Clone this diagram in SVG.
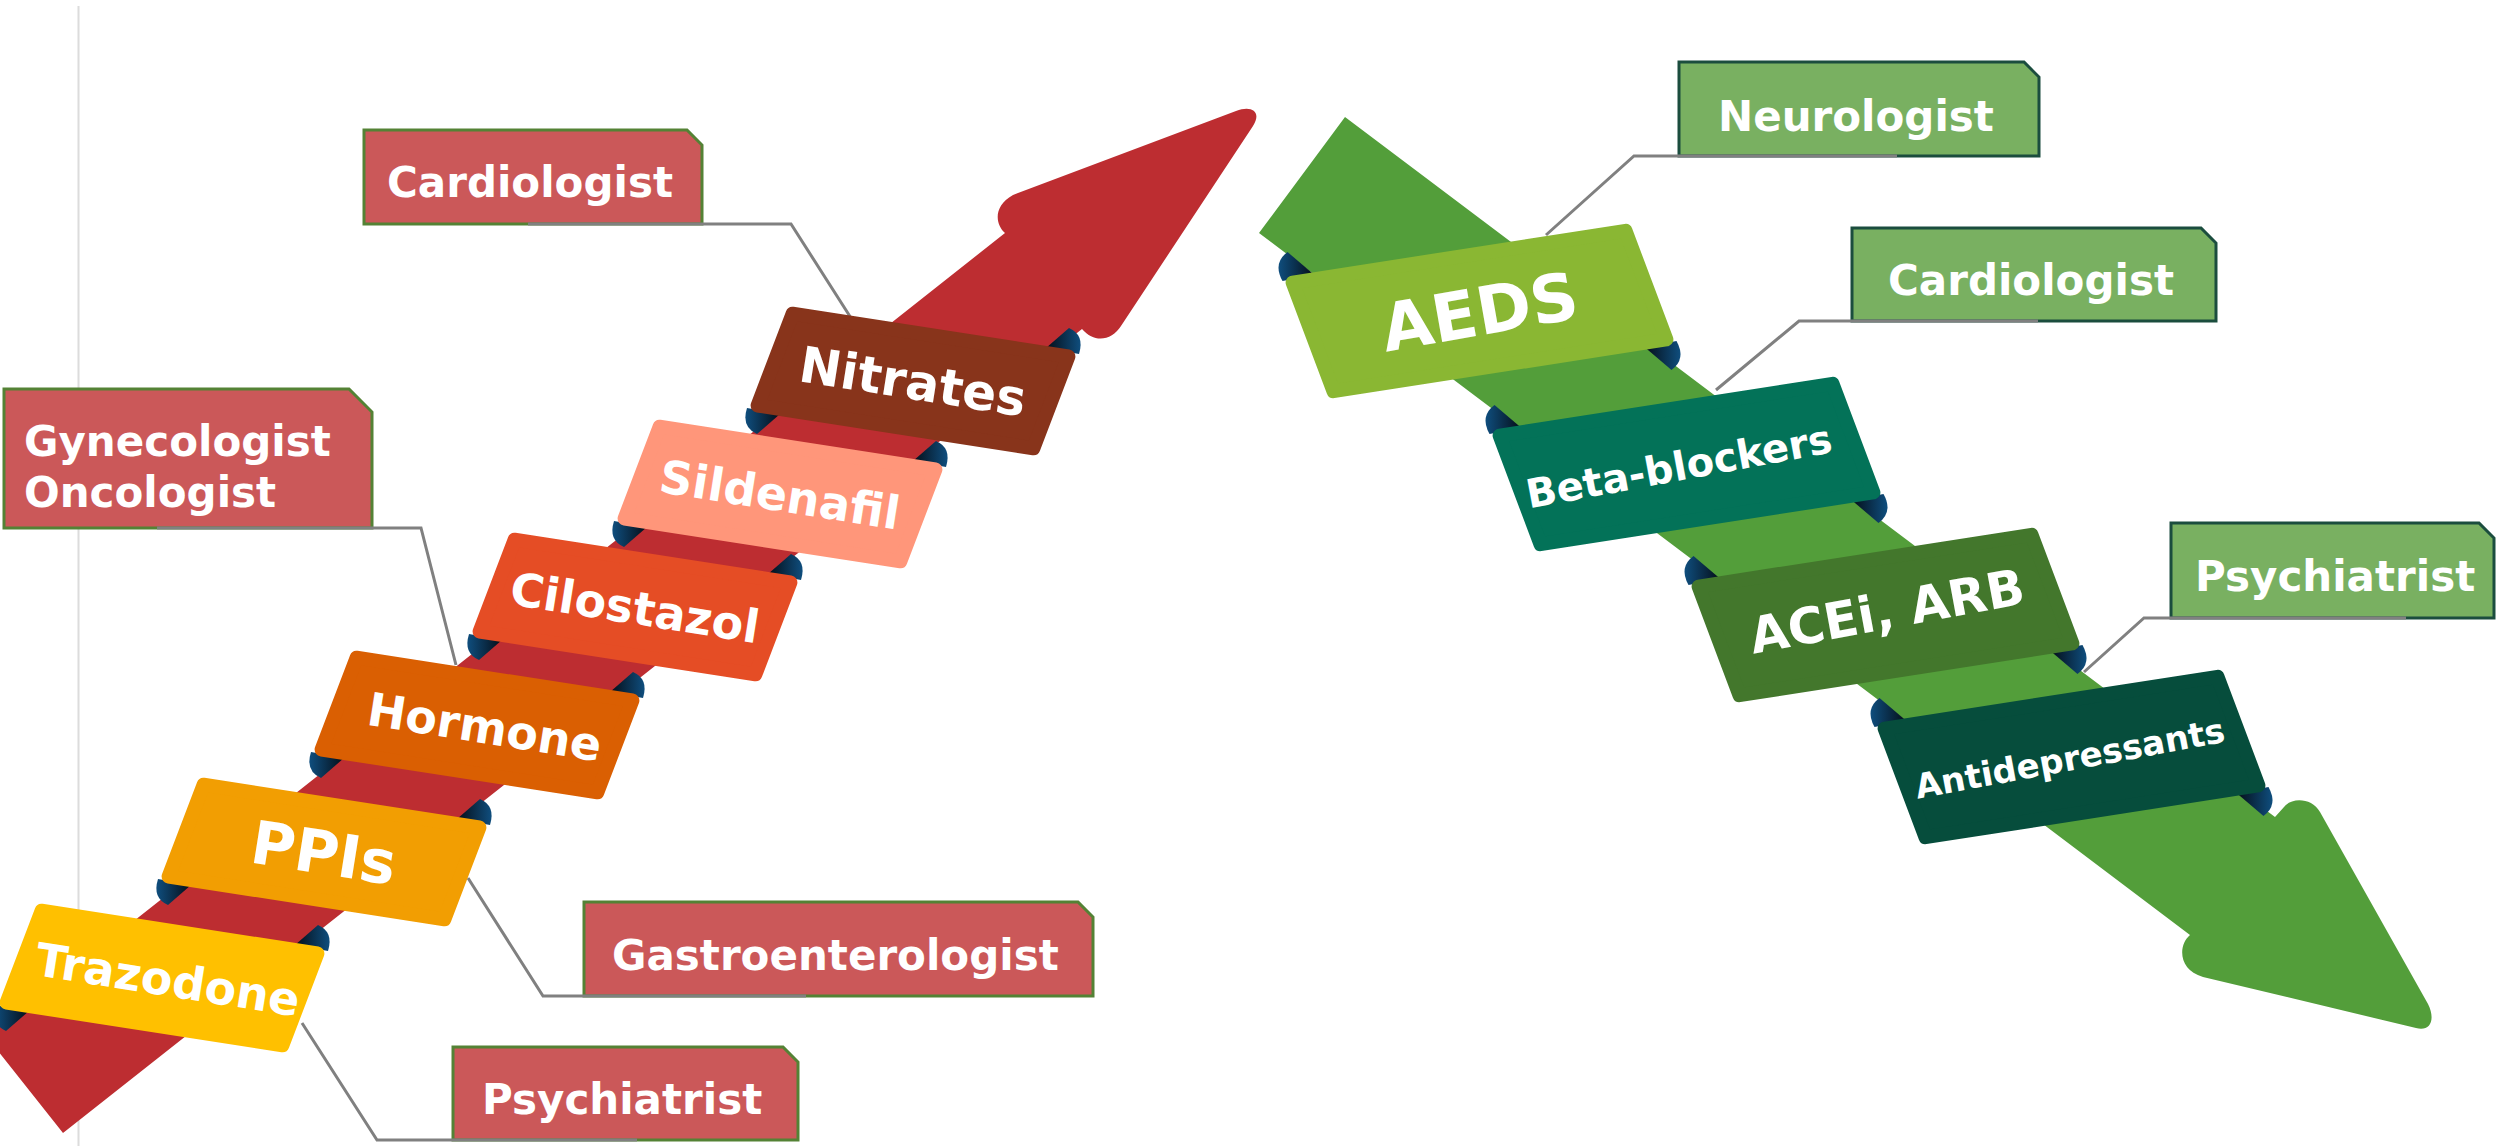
<svg xmlns="http://www.w3.org/2000/svg" width="2496" height="1146" viewBox="0 0 2496 1146">
  <defs>
    <style>
      .lbl{font-family:"DejaVu Sans","Liberation Sans",sans-serif;font-weight:bold;fill:#ffffff}
      .box-r{fill:#CB5859;stroke:#548235;stroke-width:3}
      .box-g{fill:#79B061;stroke:#1B4D3E;stroke-width:3}
      .conn{fill:none;stroke:#808080;stroke-width:3;stroke-linejoin:miter}
      .rib{stroke-width:14;stroke-linejoin:round}
    </style>
    <linearGradient id="foldR" x1="0" y1="0" x2="1" y2="0">
      <stop offset="0" stop-color="#050d16"/>
      <stop offset="1" stop-color="#0f4e7e"/>
    </linearGradient>
    <linearGradient id="foldL" x1="0" y1="0" x2="1" y2="0">
      <stop offset="0" stop-color="#0f4e7e"/>
      <stop offset="1" stop-color="#050d16"/>
    </linearGradient>
    <!-- ribbon bodies, drawn inset and rounded by a same-colour stroke -->
    <path id="ribR" d="M-120.4,-67.3 L155.4,-24.5 L120.4,67.3 L-155.4,24.5 Z"/>
    <path id="ribG" d="M-186.9,-28.4 L146,-80.2 L186.9,28.4 L-146,80.2 Z"/>
    <!-- curled ends where a ribbon wraps behind the arrow -->
    <path id="foldRtr" d="M133,-33 L156,-53 Q172,-46 166,-27 Z" fill="url(#foldR)"/>
    <path id="foldRbl" d="M-133,33 L-156,53 Q-172,46 -166,27 Z" fill="url(#foldL)"/>
    <path id="foldGtl" d="M-165,-36 L-192,-59 Q-207,-48 -197,-30 Z" fill="url(#foldL)"/>
    <path id="foldGbr" d="M165,36 L192,59 Q207,48 197,30 Z" fill="url(#foldR)"/>
  </defs>

  <rect x="0" y="0" width="2496" height="1146" fill="#ffffff"/>
  <line x1="78.5" y1="6" x2="78.5" y2="1146" stroke="#dcdcdc" stroke-width="2"/>

  <!-- big arrows -->
  <g id="arrow-up">
    <path d="M63,1133 L-13,1037 L1005,233 C996,225 992,207 1013,195 L1236,111 C1252,105 1262,112 1253,126 L1121,326 C1112,340 1095,344 1082,329 Z" fill="#BD2D31"/>
  </g>
  <g id="arrow-down">
    <path d="M1345,117 L2275,817 L2284,807 C2292,797 2312,798 2320,812 L2428,1004 C2436,1020 2430,1032 2416,1028 L2203,977 C2178,970 2178,945 2190,935 L1259,233 Z" fill="#539E3A"/>
  </g>

  <!-- specialist labels -->
  <g id="lbl-cardio-r">
    <path class="box-r" d="M364,130 L687,130 L702,145 L702,224 L364,224 Z"/>
    <text class="lbl" x="387" y="197" font-size="42">Cardiologist</text>
  </g>
  <g id="lbl-gyn-onc">
    <path class="box-r" d="M4,389 L349,389 L372,412 L372,528 L4,528 Z"/>
    <text class="lbl" x="24" y="456" font-size="42">Gynecologist</text>
    <text class="lbl" x="24" y="507" font-size="42">Oncologist</text>
  </g>
  <g id="lbl-gastro">
    <path class="box-r" d="M584,902 L1078,902 L1093,917 L1093,996 L584,996 Z"/>
    <text class="lbl" x="612" y="970" font-size="42">Gastroenterologist</text>
  </g>
  <g id="lbl-psych-r">
    <path class="box-r" d="M453,1047 L783,1047 L798,1062 L798,1140 L453,1140 Z"/>
    <text class="lbl" x="482" y="1114" font-size="42">Psychiatrist</text>
  </g>
  <g id="lbl-neuro">
    <path class="box-g" d="M1679,62 L2024,62 L2039,77 L2039,156 L1679,156 Z"/>
    <text class="lbl" x="1718" y="131" font-size="42">Neurologist</text>
  </g>
  <g id="lbl-cardio-g">
    <path class="box-g" d="M1852,228 L2201,228 L2216,243 L2216,321 L1852,321 Z"/>
    <text class="lbl" x="1888" y="295" font-size="42">Cardiologist</text>
  </g>
  <g id="lbl-psych-g">
    <path class="box-g" d="M2171,523 L2479,523 L2494,538 L2494,618 L2171,618 Z"/>
    <text class="lbl" x="2195" y="591" font-size="42">Psychiatrist</text>
  </g>

  <!-- leader lines -->
  <g id="connectors">
    <path class="conn" d="M528,224 L791,224 L851,318"/>
    <path class="conn" d="M157,528 L421,528 L456,665"/>
    <path class="conn" d="M468,878 L543,996 L806,996"/>
    <path class="conn" d="M302,1023 L377,1140 L637,1140"/>
    <path class="conn" d="M1897,156 L1634,156 L1546,235"/>
    <path class="conn" d="M2038,321 L1799,321 L1716,390"/>
    <path class="conn" d="M2406,618 L2144,618 L2084,672"/>
  </g>

  <!-- drug ribbons on the rising arrow -->
  <g id="rib-nitrates" transform="translate(913,381)">
    <use href="#foldRtr"/><use href="#foldRbl"/>
    <use href="#ribR" class="rib" fill="#88341B" stroke="#88341B"/>
    <text class="lbl" transform="rotate(9)" x="0" y="18" font-size="50" text-anchor="middle">Nitrates</text>
  </g>
  <g id="rib-sildenafil" transform="translate(780,494)">
    <use href="#foldRtr"/><use href="#foldRbl"/>
    <use href="#ribR" class="rib" fill="#FF967A" stroke="#FF967A"/>
    <text class="lbl" transform="rotate(9)" x="0" y="17" font-size="46" text-anchor="middle">Sildenafil</text>
  </g>
  <g id="rib-cilostazol" transform="translate(635,607)">
    <use href="#foldRtr"/><use href="#foldRbl"/>
    <use href="#ribR" class="rib" fill="#E54D25" stroke="#E54D25"/>
    <text class="lbl" transform="rotate(9)" x="0" y="17" font-size="46" text-anchor="middle">Cilostazol</text>
  </g>
  <g id="rib-hormone" transform="translate(477,725)">
    <use href="#foldRtr"/><use href="#foldRbl"/>
    <use href="#ribR" class="rib" fill="#DA5F02" stroke="#DA5F02"/>
    <text class="lbl" transform="rotate(9)" x="8" y="17" font-size="46" text-anchor="middle">Hormone</text>
  </g>
  <g id="rib-ppis" transform="translate(324,852)">
    <use href="#foldRtr"/><use href="#foldRbl"/>
    <use href="#ribR" class="rib" fill="#F29E02" stroke="#F29E02"/>
    <text class="lbl" transform="rotate(9)" x="0" y="22" font-size="60" text-anchor="middle">PPIs</text>
  </g>
  <g id="rib-trazodone" transform="translate(162,978)">
    <use href="#foldRtr"/><use href="#foldRbl"/>
    <use href="#ribR" class="rib" fill="#FFC000" stroke="#FFC000"/>
    <text class="lbl" transform="rotate(9)" x="6" y="17" font-size="46" text-anchor="middle">Trazodone</text>
  </g>

  <!-- drug ribbons on the falling arrow -->
  <g id="rib-aeds" transform="translate(1479.5,311)">
    <use href="#foldGtl"/><use href="#foldGbr"/>
    <use href="#ribG" class="rib" fill="#8AB733" stroke="#8AB733"/>
    <text class="lbl" transform="rotate(-10)" x="0" y="24" font-size="66" text-anchor="middle">AEDS</text>
  </g>
  <g id="rib-beta" transform="translate(1686.5,464)">
    <use href="#foldGtl"/><use href="#foldGbr"/>
    <use href="#ribG" class="rib" fill="#037258" stroke="#037258"/>
    <text class="lbl" transform="rotate(-10.5)" x="-8" y="15" font-size="40" text-anchor="middle">Beta-blockers</text>
  </g>
  <g id="rib-acei" transform="translate(1885.5,615)">
    <use href="#foldGtl"/><use href="#foldGbr"/>
    <use href="#ribG" class="rib" fill="#43772C" stroke="#43772C"/>
    <text class="lbl" transform="rotate(-10.5)" x="2" y="14" font-size="50" text-anchor="middle">ACEi, ARB</text>
  </g>
  <g id="rib-antidep" transform="translate(2071.5,757)">
    <use href="#foldGtl"/><use href="#foldGbr"/>
    <use href="#ribG" class="rib" fill="#064D3C" stroke="#064D3C"/>
    <text class="lbl" transform="rotate(-10.5)" x="-2" y="13" font-size="34" text-anchor="middle">Antidepressants</text>
  </g>
</svg>
